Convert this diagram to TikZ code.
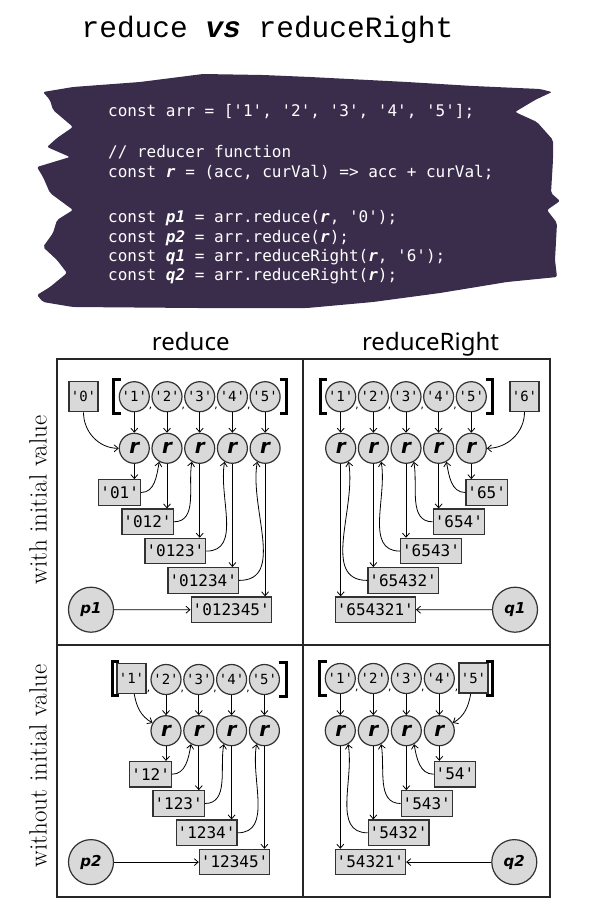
\documentclass[tikz,border=0pt]{standalone}
\usepackage{fontspec}
\usetikzlibrary{calc,arrows.meta}
\newfontfamily\valface{DejaVu Sans Mono}
\newfontfamily\titleface{Liberation Mono}
\newfontfamily\headface{Noto Sans}
\newfontfamily\symface{DejaVu Sans}
\newcommand{\codevar}[1]{{\bfseries\itshape #1}}
\definecolor{inkpurple}{RGB}{58,45,76}
\definecolor{cellgray}{RGB}{217,217,217}
\definecolor{edgegray}{RGB}{50,50,50}

\begin{document}
\frenchspacing
\begin{tikzpicture}[x=1pt, y=-1pt,
    elem/.style={circle, draw=edgegray, line width=1.2pt, fill=cellgray, minimum size=30pt, inner sep=0pt, font=\valface\fontsize{14}{15}\selectfont},
    initbox/.style={rectangle, draw=edgegray, line width=1.2pt, fill=cellgray, minimum width=29pt, minimum height=30pt, inner sep=1pt, font=\valface\fontsize{14}{15}\selectfont},
    redr/.style={elem, font=\symface\bfseries\itshape\fontsize{20}{21}\selectfont},
    accbox/.style={rectangle, draw=edgegray, line width=1.2pt, fill=cellgray, minimum height=25.5pt, inner xsep=1.5pt, inner ysep=0pt, font=\valface\fontsize{16}{17}\selectfont},
    result/.style={circle, draw=edgegray, line width=1.2pt, fill=cellgray, minimum size=45pt, inner sep=0pt, font=\symface\bfseries\itshape\fontsize{15}{16}\selectfont},
    comma/.style={inner sep=0pt, font=\valface\fontsize{9}{10}\selectfont},
    code/.style={anchor=base west, text=white, inner sep=0pt, font=\valface\fontsize{16}{19}\selectfont},
    flow/.style={draw, line width=0.8pt, -{Straight Barb[length=4pt,width=7pt]}},
    brack/.style={draw, line width=3pt},
  ]
  \useasboundingbox (0,0) rectangle (592,913);

  % title
  \node[anchor=base, inner sep=0pt, font=\titleface\fontsize{29.5}{30}\selectfont] (title) at (267.5,37) {reduce {\bfseries\itshape vs} reduceRight};

  % code blob
  \path[fill=inkpurple, rounded corners=2pt] (43,92) -- (73,87) -- (140,82) -- (203,74) -- (263,75) -- (310,77) -- (407,82) -- (473,86) -- (540,89) -- (552,92) -- (535,100) -- (515,112) -- (537,122) -- (553,140) -- (553,160) -- (551,193) -- (560,201) -- (547,210) -- (557,223) -- (555,260) -- (557,277) -- (507,282) -- (440,293) -- (373,302) -- (307,308) -- (197,308) -- (73,307) -- (43,302) -- (37,295) -- (50,287) -- (67,273) -- (57,260) -- (43,247) -- (53,233) -- (57,220) -- (73,210) -- (50,193) -- (43,177) -- (37,167) -- (70,157) -- (47,147) -- (57,138) -- (73,127) -- (53,110) -- (50,100) -- cycle;
  \node[code] (line1) at (108,116.7) {const arr = ['1', '2', '3', '4', '5'];};
  \node[code] (line2) at (108,157.5) {// reducer function};
  \node[code] (line3) at (108,177.5) {const \codevar{r} = (acc, curVal) => acc + curVal;};
  \node[code] (line4) at (108,222.5) {const \codevar{p1} = arr.reduce(\codevar{r}, '0');};
  \node[code] (line5) at (108,242) {const \codevar{p2} = arr.reduce(\codevar{r});};
  \node[code] (line6) at (108,261.5) {const \codevar{q1} = arr.reduceRight(\codevar{r}, '6');};
  \node[code] (line7) at (108,280.5) {const \codevar{q2} = arr.reduceRight(\codevar{r});};

  % headers
  \node[anchor=base, inner sep=0pt, font=\headface\fontsize{24}{28}\selectfont] (headL) at (190.8,350.7) {reduce};
  \node[anchor=base, inner sep=0pt, font=\headface\fontsize{24}{28}\selectfont] (headR) at (430.5,350.7) {reduceRight};
  \node[rotate=90, font=\fontsize{25}{28}\selectfont] (sideT) at (38,500) {with initial value};
  \node[rotate=90, font=\fontsize{25}{28}\selectfont] (sideB) at (38,766) {without initial value};

  % table
  \path[draw, line width=1.8pt, black!85] (57,359) rectangle (550,897);
  \path[draw, line width=1.8pt, black!85] (303,359) -- (303,897);
  \path[draw, line width=1.8pt, black!85] (57,645) -- (550,645);

  % reduce, with '0'
  \node[initbox] (iniA) at (83.5,396.7) {'0'};
  \foreach \i in {1,...,5}{
    \node[elem] (eA\i) at ({101.6+32.7*\i},396.7) {'\i'};
    \node[redr] (rA\i) at ({101.6+32.7*\i},448.3) {r};
    \path[flow] (eA\i) -- (rA\i);
  }
  \foreach \a/\b [count=\i] in {eA1/eA2,eA2/eA3,eA3/eA4,eA4/eA5}
    \node[comma] (cA\i) at ($(\a.east)!.5!(\b.west)+(0,12)$) {,};
  \path[brack] ($(eA1.west)+(2,-17)$) -- ++(-7,0) -- ++(0,34) -- ++(7,0);
  \path[brack] ($(eA5.east)+(-1,-17)$) -- ++(7,0) -- ++(0,34) -- ++(-7,0);
  \foreach \k/\v in {1/01,2/012,3/0123,4/01234,5/012345}{
    \node[accbox, anchor=east] (aA\k) at ({108.3+32.7*\k},{463.2+29.3*\k}) {'\v'};
    \path[flow] (rA\k) -- (rA\k |- aA\k.north);
  }
  \path[flow] (iniA) to[out=-90, in=180] (rA1);
  \foreach \k/\nx in {1/2,2/3,3/4,4/5}
    \path[flow] (aA\k.east) to[out=0, in=-100] (rA\nx.-120);
  \node[result] (p1) at (91,609.7) {p1};
  \path[flow] (p1) -- (aA5);

  % reduceRight, with '6'
  \node[initbox] (iniB) at (524.5,396.5) {'6'};
  \foreach \i in {1,...,5}{
    \node[elem] (eB\i) at ({308.05+32.65*\i},396.7) {'\i'};
    \node[redr] (rB\i) at ({308.05+32.65*\i},448.3) {r};
    \path[flow] (eB\i) -- (rB\i);
  }
  \foreach \a/\b [count=\i] in {eB1/eB2,eB2/eB3,eB3/eB4,eB4/eB5}
    \node[comma] (cB\i) at ($(\a.east)!.5!(\b.west)+(0,12)$) {,};
  \path[brack] ($(eB1.west)+(2,-17)$) -- ++(-7,0) -- ++(0,34) -- ++(7,0);
  \path[brack] ($(eB5.east)+(-1,-17)$) -- ++(7,0) -- ++(0,34) -- ++(-7,0);
  \foreach \k/\c/\v in {1/5/65,2/4/654,3/3/6543,4/2/65432,5/1/654321}{
    \node[accbox, anchor=west] (aB\k) at ({302.05+32.65*\c},{463.2+29.3*\k}) {'\v'};
    \path[flow] (rB\c) -- (rB\c |- aB\k.north);
  }
  \path[flow] (iniB) to[out=-90, in=0] (rB5);
  \foreach \k/\c in {1/4,2/3,3/2,4/1}
    \path[flow] (aB\k.west) to[out=180, in=-80] (rB\c.-60);
  \node[result] (q1) at (515,609.7) {q1};
  \path[flow] (q1) -- (aB5);

  % reduce, no initial value
  \node[initbox] (iniC) at (131.5,678.5) {'1'};
  \foreach \i in {2,...,5}{
    \node[elem] (eC\i) at ({100.4+32.8*\i},679.5) {'\i'};
    \node[redr] (rC\i) at ({100.4+32.8*\i},730.7) {r};
    \path[flow] (eC\i) -- (rC\i);
  }
  \foreach \a/\b [count=\i] in {iniC/eC2,eC2/eC3,eC3/eC4,eC4/eC5}
    \node[comma] (cC\i) at ($(\a.east)!.5!(\b.west)+(0,12)$) {,};
  \path[brack] ($(iniC.west)+(3,-17)$) -- ++(-7,0) -- ++(0,34) -- ++(7,0);
  \path[brack] ($(eC5.east)+(-1,-17)$) -- ++(7,0) -- ++(0,34) -- ++(-7,0);
  \foreach \k/\c/\v in {1/2/12,2/3/123,3/4/1234,4/5/12345}{
    \node[accbox, anchor=east] (aC\k) at ({106.4+32.8*\c},{744.9+29.3*\k}) {'\v'};
    \path[flow] (rC\c) -- (rC\c |- aC\k.north);
  }
  \path[flow] (iniC) to[out=-80, in=150] (rC2);
  \foreach \k/\nx in {1/3,2/4,3/5}
    \path[flow] (aC\k.east) to[out=0, in=-100] (rC\nx.-120);
  \node[result] (p2) at (91,862.1) {p2};
  \path[flow] (p2) -- (aC4);

  % reduceRight, no initial value
  \node[initbox] (iniD) at (473.5,678) {'5'};
  \foreach \i in {1,...,4}{
    \node[elem] (eD\i) at ({307.3+33*\i},678.5) {'\i'};
    \node[redr] (rD\i) at ({307.3+33*\i},730.7) {r};
    \path[flow] (eD\i) -- (rD\i);
  }
  \foreach \a/\b [count=\i] in {eD1/eD2,eD2/eD3,eD3/eD4,eD4/iniD}
    \node[comma] (cD\i) at ($(\a.east)!.5!(\b.west)+(0,12)$) {,};
  \path[brack] ($(eD1.west)+(2,-17)$) -- ++(-7,0) -- ++(0,34) -- ++(7,0);
  \path[brack] ($(iniD.east)+(-3,-17)$) -- ++(7,0) -- ++(0,34) -- ++(-7,0);
  \foreach \k/\c/\v in {1/4/54,2/3/543,3/2/5432,4/1/54321}{
    \node[accbox, anchor=west] (aD\k) at ({301.6+33*\c},{744.9+29.3*\k}) {'\v'};
    \path[flow] (rD\c) -- (rD\c |- aD\k.north);
  }
  \path[flow] (iniD) to[out=-100, in=30] (rD4);
  \foreach \k/\c in {1/3,2/2,3/1}
    \path[flow] (aD\k.west) to[out=180, in=-80] (rD\c.-60);
  \node[result] (q2) at (514.3,862.1) {q2};
  \path[flow] (q2) -- (aD4);
\end{tikzpicture}
\end{document}
